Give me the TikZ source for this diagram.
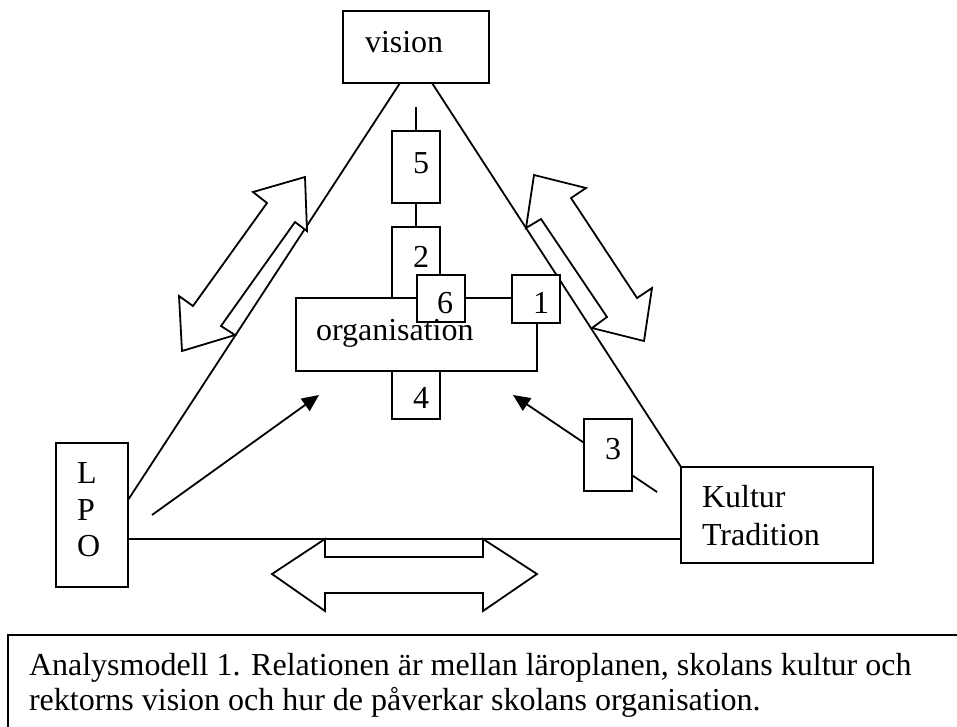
\documentclass[tikz,border=0pt]{standalone}
\usepackage{fontspec}
\setmainfont{Liberation Serif}
\usetikzlibrary{arrows.meta,calc}

\begin{document}
\begin{tikzpicture}[x=1pt,y=-1pt,line width=1.8pt,
  box/.style={draw,fill=white,inner sep=0pt,outer sep=0pt},
  lbl/.style={anchor=base west,inner sep=0pt,outer sep=0pt,font=\fontsize{32}{35}\selectfont},
  pointer/.style={-{Triangle[length=17pt,width=15pt]}},
  blockarrow/.style={draw,fill=white,line join=miter}]
\useasboundingbox (0,0) rectangle (957,726);

% corner boxes of the triangle
\node[box,minimum width=146pt,minimum height=72pt] (vision) at (416,47) {};
\node[box,minimum width=72pt,minimum height=144pt] (lpo) at (92,515) {};
\node[box,minimum width=192pt,minimum height=96pt] (kultur) at (777,515) {};

% triangle sides
\draw ([xshift=-16pt]vision.south) -- ([yshift=15pt]lpo.east);
\draw ([xshift=16pt]vision.south) -- (kultur.north west);
\draw ([yshift=-24pt]lpo.east) -- ([yshift=-24pt]lpo.east -| kultur.west);

% influence arrows towards the organisation
\coordinate (a1s) at (152,515);
\coordinate (a1e) at (319,395);
\coordinate (a2s) at (657,492);
\coordinate (a2e) at (513,395);
\draw[pointer] (a1s) -- (a1e);
\draw[pointer] (a2s) -- (a2e);

% double block arrows along the sides
\draw[blockarrow] (305,177) -- (253,192) -- (267,203) -- (193,306) -- (179,296)
  -- (182,351) -- (235,335) -- (221,326) -- (295,222) -- (307,231) -- cycle;
\draw[blockarrow] (534,175) -- (586,188) -- (571,198) -- (637,298) -- (652,288)
  -- (644,341) -- (592,328) -- (607,317) -- (541,219) -- (526,228) -- cycle;
\draw[blockarrow] (272,574) -- (325,539) -- (325,557) -- (483,557) -- (483,539)
  -- (537,574) -- (483,611) -- (483,593) -- (325,593) -- (325,611) -- cycle;

% central column
\coordinate (v5top) at (416,107);
\node[box,minimum width=48pt,minimum height=72pt] (b5) at (416,167) {};
\node[box,minimum width=48pt,minimum height=71pt] (b2) at (416,262.5) {};
\draw (v5top) -- (b5.north);
\draw (b5.south) -- (b2.north);
\node[box,minimum width=241pt,minimum height=73pt] (org) at (416.5,334.5) {};
\node[box,minimum width=48pt,minimum height=47pt] (b6) at (441,298.5) {};
\node[box,minimum width=48pt,minimum height=48pt] (b1) at (536,299) {};
\draw (b6.east |- org.north) -- (b1.west |- org.north);
\node[box,minimum width=48pt,minimum height=48pt] (b4) at (416,395) {};
\node[box,minimum width=48pt,minimum height=72pt] (b3) at (608,455) {};

% texts
\node[lbl] (tvision) at (365,52) {vision};
\node[lbl,text height=22pt] (torg) at (316,340) {organisation};
\node[lbl] (tkultur) at (702,507) {Kultur};
\node[lbl] (ttrad) at (702,545) {Tradition};
\node[lbl] (tl) at (77,483) {L};
\node[lbl] (tp) at (77,520) {P};
\node[lbl] (to) at (77,556) {O};
\node[lbl] (t5) at (413,173) {5};
\node[lbl] (t2) at (413,267) {2};
\node[lbl] (t4) at (413,408) {4};
\node[lbl] (t3) at (605,459) {3};
\node[lbl,text depth=0pt] (t6) at (437,313) {6};
\node[lbl,text depth=0pt] (t1) at (533,313) {1};

% caption frame
\draw (8,760) -- (8,635) -- (990,635);
\node[lbl] (cap1) at (29,675) {Analysmodell 1. Relationen är mellan läroplanen, skolans kultur och};
\node[lbl] (cap2) at (29,710) {rektorns vision och hur de påverkar skolans organisation.};
\end{tikzpicture}
\end{document}
